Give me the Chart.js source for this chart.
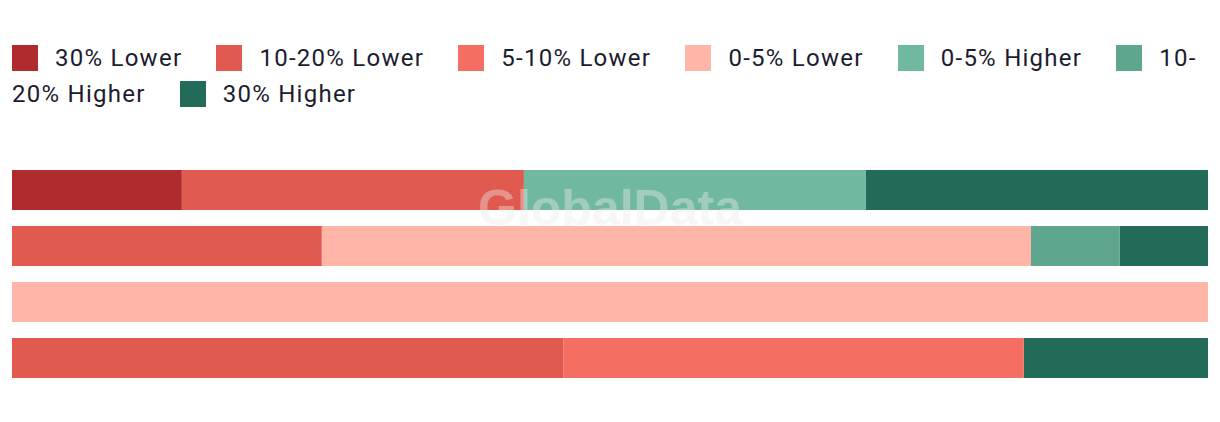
<!DOCTYPE html>
<html>
<head>
<meta charset="utf-8">
<script src="https://cdn.jsdelivr.net/npm/chart.js@4/dist/chart.umd.min.js"></script>
<style>
  body { margin: 0; background: #fff; font-family: Roboto, "Noto Sans", sans-serif; }
  #legend { position: absolute; left: 12px; top: 40px; width: 1200px; font-size: 24px; letter-spacing: 1.25px; line-height: 36px; color: #1c1c30; }
  #legend .item { margin-right: 27px; }
  #legend .box { display: inline-block; width: 26px; height: 26px; margin-right: 17px; vertical-align: -5px; }
  #wrap { position: absolute; left: 0; top: 150px; width: 1220px; height: 250px; }
</style>
</head>
<body>
<div id="legend"></div>
<div id="wrap"><canvas id="chart"></canvas></div>
<script>
const categories = ['1', '2', '3', '4'];
const seriesNames = ['30% Lower', '10-20% Lower', '5-10% Lower', '0-5% Lower', '0-5% Higher', '10-20% Higher', '30% Higher'];
const lower30 = [14.2, 0, 0, 0];
const lower10to20 = [28.6, 25.9, 0, 46.1];
const lower5to10 = [0, 0, 0, 38.5];
const lower0to5 = [0, 59.3, 100, 0];
const higher0to5 = [28.6, 0, 0, 0];
const higher10to20 = [0, 7.4, 0, 0];
const higher30 = [28.6, 7.4, 0, 15.4];
const colors = ['#b02b2e', '#e05a4f', '#f46e62', '#ffb5a7', '#70b8a0', '#5fa68f', '#216b58'];

const values = [lower30, lower10to20, lower5to10, lower0to5, higher0to5, higher10to20, higher30];

// html legend so long labels wrap like the original (break allowed after hyphen)
const legend = document.getElementById('legend');
legend.innerHTML = seriesNames.map((n, i) =>
  `<span class="item"><span class="box" style="background:${colors[i]}"></span>${n.replace(/-/g, '-<wbr>')}</span>`
).join(' ');

const watermark = {
  id: 'watermark',
  afterDraw(chart) {
    const { ctx, chartArea: a } = chart;
    ctx.save();
    ctx.font = 'bold 50px "Liberation Sans", Arial, sans-serif';
    ctx.fillStyle = 'rgba(235,235,235,0.4)';
    ctx.textAlign = 'center';
    ctx.textBaseline = 'middle';
    ctx.fillText('GlobalData', (a.left + a.right) / 2, 61);
    ctx.restore();
  }
};

new Chart(document.getElementById('chart'), {
  type: 'bar',
  data: {
    labels: categories,
    datasets: values.map((v, i) => ({
      label: seriesNames[i],
      data: v,
      backgroundColor: colors[i],
      borderWidth: 0,
      categoryPercentage: 1,
      barPercentage: 40 / 56
    }))
  },
  options: {
    indexAxis: 'y',
    responsive: true,
    maintainAspectRatio: false,
    animation: false,
    layout: { padding: { left: 12, right: 12, top: 12, bottom: 14 } },
    plugins: { legend: { display: false }, tooltip: { enabled: false } },
    scales: {
      x: { stacked: true, min: 0, max: 100, display: false },
      y: { stacked: true, display: false }
    }
  },
  plugins: [watermark]
});
</script>
</body>
</html>
